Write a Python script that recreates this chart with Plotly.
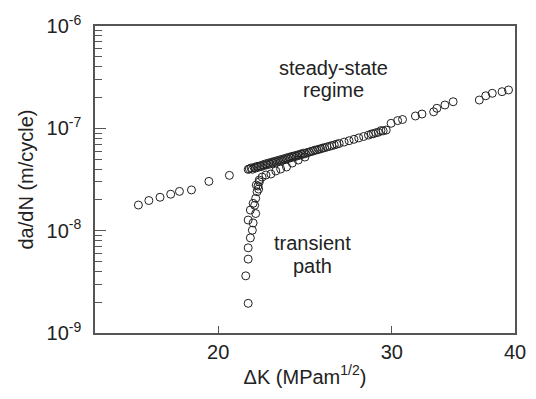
import math
import plotly.graph_objects as go

# Left branch (low ΔK)
left_dk = [16.60, 17.01, 17.46, 17.90, 18.27, 18.79, 19.57, 20.53]
left_rate = [1.78e-8, 1.97e-8, 2.12e-8, 2.27e-8, 2.42e-8, 2.50e-8, 3.03e-8, 3.47e-8]

# Transient path
trans_dk = [21.45, 21.33, 21.45, 21.45, 21.56, 21.66, 21.45, 21.70, 21.56, 21.83,
            21.70, 21.78, 21.83, 21.90, 21.98, 21.95, 22.02, 21.86, 22.01, 22.16,
            22.36, 22.62, 22.88, 23.14, 23.46, 23.78, 24.11, 24.49]
trans_rate = [1.95e-9, 3.62e-9, 5.27e-9, 6.8e-9, 8.5e-9, 1.01e-8, 1.27e-8, 1.19e-8, 1.59e-8, 1.47e-8,
              1.85e-8, 1.77e-8, 2.07e-8, 2.40e-8, 2.55e-8, 2.73e-8, 3.00e-8, 2.79e-8, 3.12e-8, 3.34e-8,
              3.50e-8, 3.58e-8, 3.83e-8, 4.00e-8, 4.19e-8, 4.58e-8, 4.90e-8, 5.24e-8]

# Steady-state regime
steady_dk = [21.45, 21.51, 21.60, 21.66, 21.75, 21.81, 21.90, 21.96, 22.05, 22.11,
             22.20, 22.26, 22.35, 22.41, 22.50, 22.57, 22.65, 22.72, 22.80, 22.88,
             22.96, 23.04, 23.12, 23.20, 23.28, 23.36, 23.44, 23.52, 23.60, 23.68,
             23.76, 23.84, 23.92, 24.01, 24.09, 24.17, 24.26, 24.34, 24.42, 24.51,
             24.62, 24.73, 24.84, 24.95, 25.06, 25.18, 25.30, 25.41, 25.52, 25.64,
             25.79, 25.94, 26.08, 26.23, 26.38, 26.53, 26.84, 27.15, 27.46, 27.77,
             28.09, 28.41, 28.60, 28.74, 28.90, 29.07, 29.25, 29.40, 29.61, 29.95,
             30.41, 30.76, 31.70, 32.19, 33.08, 33.33, 33.96, 34.62, 36.80, 37.36,
             37.93, 38.81, 39.40]
steady_rate_e8 = [3.97, 4.02, 4.10, 3.98, 4.15, 4.08, 4.25, 4.16, 4.30, 4.22,
                  4.40, 4.33, 4.50, 4.40, 4.58, 4.48, 4.66, 4.57, 4.75, 4.66,
                  4.84, 4.76, 4.93, 4.85, 5.02, 4.95, 5.12, 5.05, 5.22, 5.15,
                  5.32, 5.25, 5.41, 5.34, 5.50, 5.45, 5.62, 5.55, 5.72, 5.66,
                  5.80, 5.84, 5.95, 5.99, 6.12, 6.15, 6.25, 6.30, 6.42, 6.46,
                  6.58, 6.67, 6.78, 6.88, 7.00, 7.11, 7.34, 7.57, 7.81, 8.06,
                  8.32, 8.59, 8.80, 8.87, 9.05, 9.15, 9.50, 9.44, 9.62, 11.2,
                  11.9, 12.2, 13.2, 13.8, 14.5, 15.7, 16.9, 18.2, 18.9, 20.8,
                  22.0, 22.8, 23.7]
steady_rate = [v * 1e-8 for v in steady_rate_e8]

x_ticks = [20, 30, 40]
y_ticks = [1e-9, 1e-8, 1e-7, 1e-6]
y_ticktext = ["10<sup>-9</sup>", "10<sup>-8</sup>", "10<sup>-7</sup>", "10<sup>-6</sup>"]
y_minor = [m * 10.0 ** e for e in (-9, -8, -7) for m in range(2, 10)]

FONT = "Liberation Sans, Arial, sans-serif"
TXT = "#222222"
AX = "#555555"

fig = go.Figure()
marker = dict(symbol="circle-open", size=8, color="#222222", line=dict(width=1, color="#222222"))
for xs, ys in [(left_dk, left_rate), (trans_dk, trans_rate), (steady_dk, steady_rate)]:
    fig.add_trace(go.Scatter(x=xs, y=ys, mode="markers", marker=marker,
                             showlegend=False, hoverinfo="skip"))

fig.update_layout(
    width=536, height=399,
    margin=dict(l=95, r=10, t=26, b=66),
    paper_bgcolor="white", plot_bgcolor="white",
    font=dict(family=FONT, color=TXT, size=20),
    xaxis=dict(type="log", range=[math.log10(15), math.log10(40)],
               tickvals=x_ticks, ticktext=[str(v) for v in x_ticks],
               ticks="inside", ticklen=7, tickwidth=1, tickcolor=AX,
               ticklabelstandoff=0,
               showline=True, linecolor=AX, linewidth=1.5, mirror=True,
               showgrid=False, zeroline=False,
               tickfont=dict(size=20, color=TXT),
               title=dict(text="ΔK (MPam<sup>1/2</sup>)", font=dict(size=20, color=TXT), standoff=8)),
    yaxis=dict(type="log", range=[-9, -6],
               tickvals=y_ticks, ticktext=y_ticktext,
               ticks="inside", ticklen=11, tickwidth=1, tickcolor=AX,
               ticklabelstandoff=8,
               minor=dict(tickvals=y_minor, ticks="inside", ticklen=7, tickwidth=1,
                          tickcolor=AX, showgrid=False),
               showline=True, linecolor=AX, linewidth=1.5, mirror=True,
               showgrid=False, zeroline=False,
               tickfont=dict(size=20, color=TXT),
               title=dict(text="da/dN (m/cycle)", font=dict(size=20, color=TXT), standoff=8)),
)

annos = [("steady-state", 0.568, 0.862), ("regime", 0.568, 0.79),
         ("transient", 0.517, 0.292), ("path", 0.517, 0.218)]
for t, x, y in annos:
    fig.add_annotation(text=t, x=x, y=y, xref="paper", yref="paper",
                       showarrow=False, font=dict(size=20, color=TXT, family=FONT),
                       xanchor="center", yanchor="middle")

fig.write_html("out.html")
